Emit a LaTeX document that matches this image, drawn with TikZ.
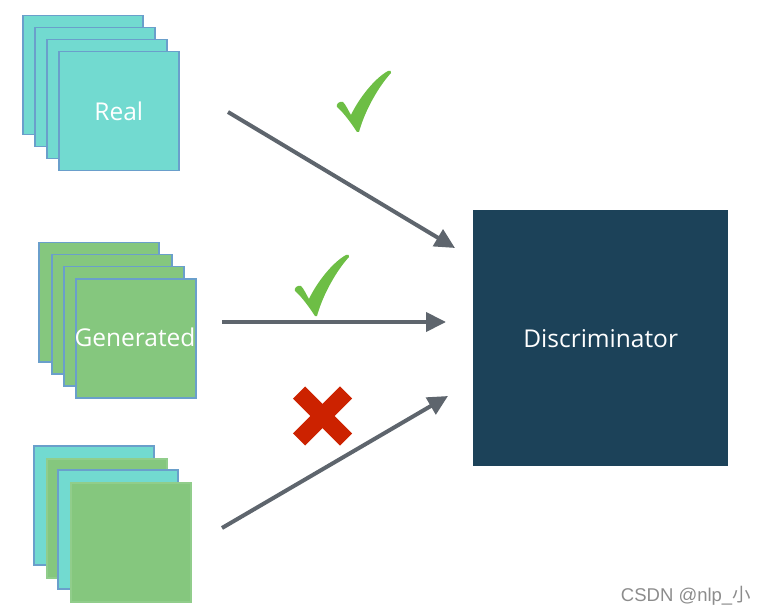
\documentclass[tikz,border=0pt]{standalone}
\usepackage{fontspec}
\setmainfont{Open Sans}
\newfontfamily\wmfont{Liberation Sans}
\newfontfamily\cjk{Noto Sans CJK SC}
\usetikzlibrary{arrows.meta}
\definecolor{teal}{HTML}{72DAD0}
\definecolor{grn}{HTML}{85C77E}
\definecolor{edge}{HTML}{6A9FCB}
\definecolor{navy}{HTML}{1C4259}
\definecolor{arrowgray}{HTML}{5E656D}
\definecolor{checkgreen}{HTML}{6DBE45}
\definecolor{crossred}{HTML}{CC2200}
\tikzset{
  sheet/.style={draw=edge, line width=1.5pt, minimum width=120pt, minimum height=119pt, inner sep=0pt, anchor=north west},
  realsheet/.style={sheet, fill=teal},
  gensheet/.style={sheet, fill=grn},
  gensoft/.style={sheet, fill=grn, draw=grn!90!white},
  lbl/.style={text=white, font=\fontsize{24.5}{26}\selectfont},
  flow/.style={draw=arrowgray, line width=4pt, -{Triangle[length=20pt,width=19pt]}},
  checkmark/.pic={
    \fill[checkgreen] (0,0) .. controls (-6,-9) and (-13,-19) .. (-20,-25)
      .. controls (-21,-28) and (-18,-31) .. (-14,-30)
      .. controls (-11,-27) and (-9,-22) .. (-6,-17)
      .. controls (2,-34) and (18,-54) .. (31,-61)
      .. controls (33,-62) and (35,-61) .. (34,-59)
      .. controls (22,-46) and (8,-22) .. (2,0) -- cycle;
  }
}
\begin{document}
\begin{tikzpicture}[x=1pt,y=-1pt]
\useasboundingbox (0,0) rectangle (764,615);
% Real stack
\node[realsheet] (r1) at (22,15) {};
\node[realsheet] (r2) at (34,27) {};
\node[realsheet] (r3) at (46,39) {};
\node[realsheet, label={[lbl]center:Real}] (r4) at (58,51) {};
% Generated stack
\node[gensheet] (g1) at (38,242) {};
\node[gensheet] (g2) at (51,254) {};
\node[gensheet] (g3) at (63,266) {};
\node[gensheet] (g4) at (75,278) {};
\node[lbl] (glabel) at (135,337) {Generated};
% Mixed stack
\node[realsheet] (m1) at (33,445) {};
\node[gensoft] (m2) at (46,458) {};
\node[realsheet] (m3) at (57,469) {};
\node[gensoft] (m4) at (70,482) {};
% Discriminator
\node[fill=navy, minimum width=255pt, minimum height=256pt, inner sep=0pt, anchor=north west] (disc) at (473,210) {};
\node[lbl] (dlabel) at (disc.center) {Discriminator};
% Arrows
\coordinate (a1s) at (228,112);
\coordinate (a1e) at (455,248);
\coordinate (a2s) at (222,322);
\coordinate (a2e) at (446,322);
\coordinate (a3s) at (222,528);
\coordinate (a3e) at (448,396);
\draw[flow] (a1s) -- (a1e);
\draw[flow] (a2s) -- (a2e);
\draw[flow] (a3s) -- (a3e);
% Marks
\pic at (357,132) {checkmark};
\pic at (315,316) {checkmark};
\draw[crossred, line width=17pt] (299,392.5) -- (346,439.5);
\draw[crossred, line width=17pt] (346,392.5) -- (299,439.5);
% Watermark
\node[text=black!45, font=\wmfont\fontsize{18.5}{20}\selectfont, anchor=east, inner sep=0pt] (wm) at (751,596) {CSDN @nlp\_{\cjk 小}};
\end{tikzpicture}
\end{document}
